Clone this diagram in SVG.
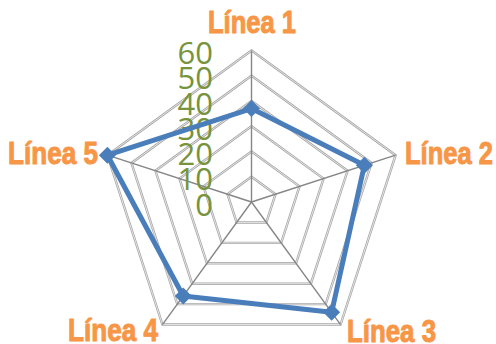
<svg xmlns="http://www.w3.org/2000/svg" width="496" height="344" viewBox="0 0 496 344">
<style>
.ring{fill:none;stroke:#a6a6a6;stroke-width:2.4;stroke-linejoin:miter}
.ringin{fill:none;stroke:#ffffff;stroke-width:0.7}
.spoke{stroke:#868686;stroke-width:1.4;fill:none}
.series{fill:none;stroke:#4a7ebb;stroke-width:5;stroke-linejoin:round}
.mk{fill:#4a7ebb}
.tick{font-family:"Open Sans","Noto Sans",sans-serif;font-size:31px;fill:#77933c;text-anchor:end}
.cat{font-family:"Liberation Sans Narrow","Liberation Sans",Arial,sans-serif;font-weight:bold;font-size:32px;fill:#f79646;stroke:#f79646;stroke-width:1;stroke-linejoin:round}
</style>
<defs>
<path id="dm" d="M0,-8.5 L8.5,0 L0,8.5 L-8.5,0 Z"/>
</defs>
<rect width="496" height="344" fill="#ffffff"/>
<g id="grid">
<polygon class="ring" points="251.5,176.75 275.52,194.20 266.34,222.43 236.66,222.43 227.48,194.20"/>
<polygon class="ring" points="251.5,151.5 299.53,186.40 281.18,242.85 221.82,242.85 203.47,186.40"/>
<polygon class="ring" points="251.5,126.25 323.55,178.59 296.03,263.28 206.97,263.28 179.45,178.59"/>
<polygon class="ring" points="251.5,101 347.56,170.79 310.87,283.71 192.13,283.71 155.44,170.79"/>
<polygon class="ring" points="251.5,75.75 371.58,162.99 325.71,304.14 177.29,304.14 131.42,162.99"/>
<polygon class="ring" points="251.5,50.5 395.59,155.19 340.55,324.56 162.45,324.56 107.41,155.19"/>
<polygon class="ringin" points="251.5,176.75 275.52,194.20 266.34,222.43 236.66,222.43 227.48,194.20"/>
<polygon class="ringin" points="251.5,151.5 299.53,186.40 281.18,242.85 221.82,242.85 203.47,186.40"/>
<polygon class="ringin" points="251.5,126.25 323.55,178.59 296.03,263.28 206.97,263.28 179.45,178.59"/>
<polygon class="ringin" points="251.5,101 347.56,170.79 310.87,283.71 192.13,283.71 155.44,170.79"/>
<polygon class="ringin" points="251.5,75.75 371.58,162.99 325.71,304.14 177.29,304.14 131.42,162.99"/>
<polygon class="ringin" points="251.5,50.5 395.59,155.19 340.55,324.56 162.45,324.56 107.41,155.19"/>
</g>
<g id="connectors">
<line class="spoke" x1="251.5" y1="202" x2="251.5" y2="50.5"/>
<line class="spoke" x1="251.5" y1="202" x2="395.59" y2="155.19"/>
<line class="spoke" x1="251.5" y1="202" x2="340.55" y2="324.56"/>
<line class="spoke" x1="251.5" y1="202" x2="162.45" y2="324.56"/>
<line class="spoke" x1="251.5" y1="202" x2="107.41" y2="155.19"/>
</g>
<g id="axis-labels">
<text class="tick" x="213" y="215.5">0</text>
<text class="tick" x="213" y="190.25">10</text>
<text class="tick" x="213" y="165">20</text>
<text class="tick" x="213" y="139.75">30</text>
<text class="tick" x="213" y="114.5">40</text>
<text class="tick" x="213" y="89.25">50</text>
<text class="tick" x="213" y="64">60</text>
</g>
<g id="series">
<polygon class="series" points="251.5,108.57 364.37,165.33 331.65,312.31 183.23,295.97 107.41,155.19"/>
<use href="#dm" class="mk" x="251.5" y="108.57"/>
<use href="#dm" class="mk" x="364.37" y="165.33"/>
<use href="#dm" class="mk" x="331.65" y="312.31"/>
<use href="#dm" class="mk" x="183.23" y="295.97"/>
<use href="#dm" class="mk" x="107.41" y="155.19"/>
</g>
<g id="linea1"><text class="cat" x="208" y="33" textLength="88" lengthAdjust="spacingAndGlyphs">Línea 1</text></g>
<g id="linea2"><text class="cat" x="405" y="163.5" textLength="88" lengthAdjust="spacingAndGlyphs">Línea 2</text></g>
<g id="linea3"><text class="cat" x="347" y="341.5" textLength="89" lengthAdjust="spacingAndGlyphs">Línea 3</text></g>
<g id="linea4"><text class="cat" x="68" y="341" textLength="90" lengthAdjust="spacingAndGlyphs">Línea 4</text></g>
<g id="linea5"><text class="cat" x="8" y="164" textLength="90" lengthAdjust="spacingAndGlyphs">Línea 5</text></g>
</svg>
